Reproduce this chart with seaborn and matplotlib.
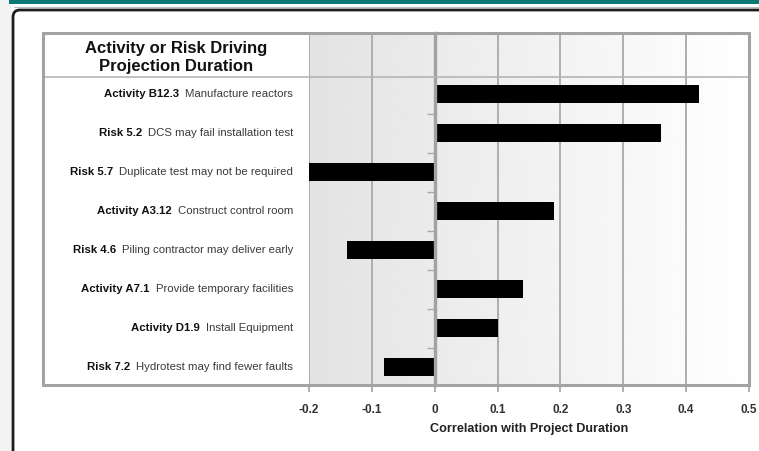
import matplotlib
matplotlib.use("Agg")
import matplotlib.pyplot as plt
import matplotlib.patches as mpatches
import matplotlib.lines as mlines
from matplotlib.transforms import IdentityTransform
import numpy as np
import pandas as pd
import seaborn as sns

# Drivers of project duration (top to bottom) and their correlation
driver_ids = ["Activity B12.3", "Risk 5.2", "Risk 5.7", "Activity A3.12",
              "Risk 4.6", "Activity A7.1", "Activity D1.9", "Risk 7.2"]
driver_desc = ["Manufacture reactors", "DCS may fail installation test",
               "Duplicate test may not be required", "Construct control room",
               "Piling contractor may deliver early", "Provide temporary facilities",
               "Install Equipment", "Hydrotest may find fewer faults"]
correlation = [0.42, 0.36, -0.20, 0.19, -0.14, 0.14, 0.10, -0.08]
x_ticks = [-0.2, -0.1, 0, 0.1, 0.2, 0.3, 0.4, 0.5]
x_tick_labels = ["-0.2", "-0.1", "0", "0.1", "0.2", "0.3", "0.4", "0.5"]
header = "Activity or Risk Driving\nProjection Duration"
x_title = "Correlation with Project Duration"

df = pd.DataFrame({"driver": [f"{a} {b}" for a, b in zip(driver_ids, driver_desc)],
                   "corr": correlation})

sns.set_theme(style="white")
plt.rcParams["font.family"] = ["Liberation Sans", "DejaVu Sans"]

W, H = 759, 451
fig = plt.figure(figsize=(W / 100, H / 100), dpi=100)
fig.patch.set_facecolor("white")
PX = IdentityTransform()  # pixel coordinates, origin bottom-left


def fx(px):
    return px / W


def fy(py):
    return 1 - py / H


def rect_px(x0, y0, x1, y1, **kw):
    """Rectangle given by top-left/bottom-right pixel corners (y measured downwards)."""
    return mpatches.Rectangle((x0, H - y1), x1 - x0, y1 - y0, transform=PX, **kw)


# page furniture: grey margin, teal strip, black rounded frame
fig.patches.append(rect_px(0, 0, 11, H, facecolor="#f3f3f3", edgecolor="none", zorder=0))
fig.patches.append(rect_px(9, 0, W + 5, 4, facecolor="#0b7a74", edgecolor="none", zorder=1))
fig.lines.append(mlines.Line2D([14, W], [H - 7, H - 7], transform=PX,
                               color="#bdbdbd", lw=0.8))
fig.patches.append(mpatches.FancyBboxPatch((13, -30), W + 40, H - 10 + 30,
                                           boxstyle="round,pad=0,rounding_size=7",
                                           transform=PX, facecolor="white",
                                           edgecolor="#1c1c1c", lw=2.0, zorder=1))

# plotting area
L, R, T, B = 309, 749, 33, 385
ax = fig.add_axes([fx(L), fy(B), fx(R - L), fy(T) - fy(B)])
ax.set_zorder(3)

xmin, xmax = -0.2, 0.5
ymin, ymax = 7.46, -1.564

# soft grey-to-white wash behind the bars
grad = np.linspace(0.89, 1.0, 256)
ax.imshow(np.tile(grad, (2, 1)), cmap="gray", vmin=0, vmax=1, aspect="auto",
          extent=[xmin, xmax, ymin, ymax], zorder=0, interpolation="bicubic")

sns.barplot(data=df, x="corr", y="driver", orient="h", color="black",
            width=0.44, saturation=1, edgecolor="none", ax=ax, zorder=2)

ax.set_xlim(xmin, xmax)
ax.set_ylim(ymin, ymax)
ax.set_xlabel("")
ax.set_ylabel("")

# vertical grid at each tick
ax.set_xticks(x_ticks)
ax.set_xticklabels(x_tick_labels, fontsize=8.5, fontweight="bold", color="#333333")
ax.grid(axis="x", color="#a9a9a9", lw=1.3, zorder=1)
ax.grid(axis="y", visible=False)
ax.set_axisbelow(True)
ax.tick_params(axis="x", bottom=True, length=5, width=1.3, color="#a9a9a9", pad=9)

# zero line carries the category boundary ticks
ax.spines["left"].set_position(("data", 0))
ax.spines["left"].set_color("#a2a2a2")
ax.spines["left"].set_linewidth(2.4)
ax.spines["left"].set_zorder(4)
for s in ["top", "right", "bottom"]:
    ax.spines[s].set_visible(False)
ax.set_yticks(np.arange(0.5, 7, 1.0))
ax.set_yticklabels([])
ax.tick_params(axis="y", left=True, length=6, width=1.0, color="#a9a9a9")

ax.text(0.5, -0.125, x_title, transform=ax.transAxes, ha="center", va="center",
        fontsize=9.1, fontweight="bold", color="#222222")

# category labels in the left panel: bold id + regular description
ytr = ax.get_yaxis_transform()
lab_x = (293 - L) / (R - L)
for i, (a, b) in enumerate(zip(driver_ids, driver_desc)):
    reg = ax.text(lab_x, i, b, transform=ytr, ha="right", va="center",
                  fontsize=8.2, color="#3a3a3a", clip_on=False)
    ax.annotate(a, xy=(0, 0), xycoords=reg, xytext=(-4.2, 0), textcoords="offset points",
                ha="right", va="bottom", fontsize=8.2, fontweight="bold",
                color="#111111", annotation_clip=False)

# outer box and header divider
fig.patches.append(rect_px(43, T, R, B, facecolor="none", edgecolor="#a3a3a3",
                           lw=2.2, zorder=5))
fig.lines.append(mlines.Line2D([43, R], [H - 77, H - 77], transform=PX,
                               color="#b5b5b5", lw=1.2, zorder=5))
fig.text(fx(176), fy(57.5), header, ha="center", va="center", fontsize=12,
         fontweight="bold", color="#111111", linespacing=1.2, zorder=6)

fig.savefig("out.png", dpi=100)
